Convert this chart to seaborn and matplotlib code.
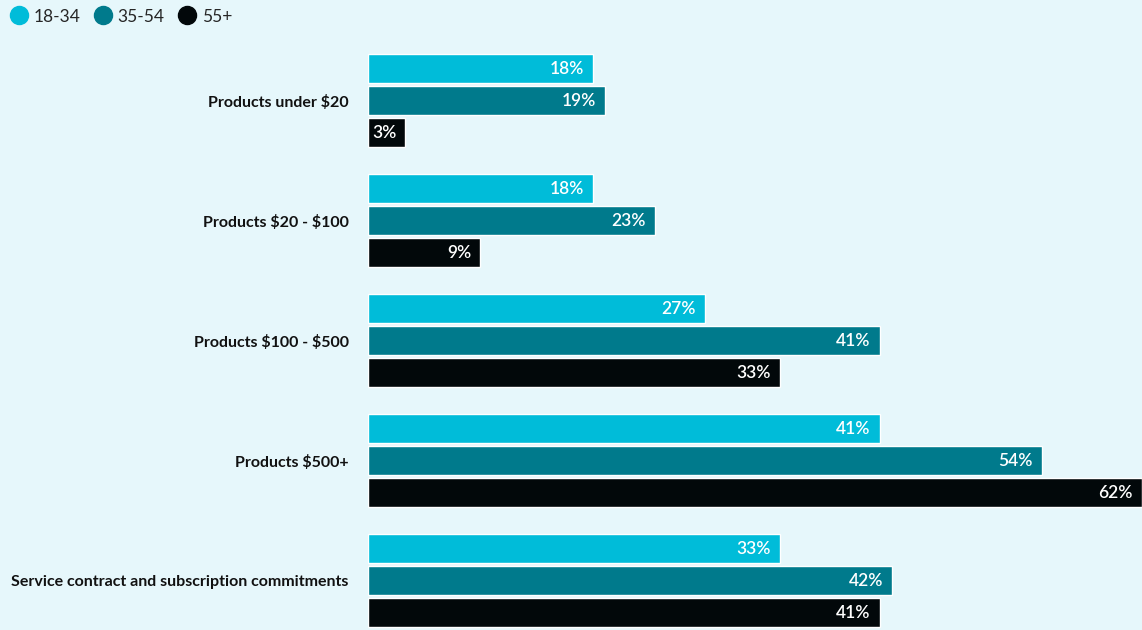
import matplotlib
matplotlib.use("Agg")
import matplotlib.pyplot as plt
from matplotlib.lines import Line2D
import seaborn as sns
import pandas as pd

categories = [
    "Products under $20",
    "Products $20 - $100",
    "Products $100 - $500",
    "Products $500+",
    "Service contract and subscription commitments",
]
age_groups = ["18-34", "35-54", "55+"]
values_18_34 = [18, 18, 27, 41, 33]
values_35_54 = [19, 23, 41, 54, 42]
values_55_plus = [3, 9, 33, 62, 41]
colors = ["#00BCD9", "#007A8C", "#02080A"]
bg = "#E6F7FB"

rows = []
for grp, vals in zip(age_groups, [values_18_34, values_35_54, values_55_plus]):
    for cat, v in zip(categories, vals):
        rows.append({"category": cat, "age": grp, "value": v})
df = pd.DataFrame(rows)

sns.set_theme(style="white")
plt.rcParams["font.family"] = ["Lato", "DejaVu Sans"]
plt.rcParams["text.parse_math"] = False

fig = plt.figure(figsize=(11.42, 6.3), dpi=100, facecolor=bg)
ax = fig.add_axes([368 / 1142, 0, 1 - 368 / 1142, 1])
ax.set_facecolor(bg)

sns.barplot(data=df, y="category", x="value", hue="age", order=categories,
            hue_order=age_groups, palette=colors, orient="h", width=0.8,
            gap=0.1, saturation=1, legend=False, ax=ax)

ax.set_xlim(0, 62)
ax.set_ylim(4.4125, -0.8375)
for s in ax.spines.values():
    s.set_visible(False)
ax.set_xticks([])
ax.set_xlabel("")
ax.set_ylabel("")
ax.tick_params(axis="y", length=0, pad=14)
for lbl in ax.get_yticklabels():
    lbl.set_fontweight("bold")
    lbl.set_fontsize(11.5)
    lbl.set_color("#111111")

for cont in ax.containers:
    texts = ax.bar_label(cont, labels=[f"{int(v)}%" for v in cont.datavalues],
                         padding=-6.5, color="white", fontsize=12.5,
                         fontweight="semibold")
    for t in texts:
        t.set_horizontalalignment("right")

handles = [Line2D([0], [0], marker="o", color="none", markerfacecolor=c,
                  markeredgecolor=c, markersize=13) for c in colors]
fig.legend(handles, age_groups, loc="upper left", bbox_to_anchor=(-0.002, 1.003),
           ncol=3, frameon=False, fontsize=12.5, handletextpad=0.25,
           columnspacing=0.7, handlelength=1.2, borderaxespad=0.2)

fig.savefig("out.png", dpi=100, facecolor=bg)
